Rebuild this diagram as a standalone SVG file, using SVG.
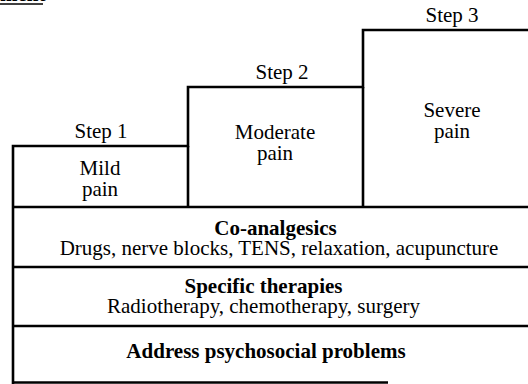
<svg xmlns="http://www.w3.org/2000/svg" width="528" height="384" viewBox="0 0 528 384">
<style>
.ln{fill:none;stroke:#000;stroke-width:2.6}
text{font-family:"Liberation Serif","Times New Roman",serif;font-size:21px;fill:#000;text-anchor:middle}
.b{font-weight:bold}
</style>
<rect width="528" height="384" fill="#fff"/>
<g id="heading">
<text x="0" y="1" style="text-anchor:start" class="b">ment</text>
<line x1="0" y1="4" x2="43" y2="4" stroke="#000" stroke-width="1.5"/>
</g>
<g id="frame">
<path class="ln" d="M13,384 V146 H188 V87 H363 V30 H528"/>
<line class="ln" x1="188" y1="146" x2="188" y2="207"/>
<line class="ln" x1="363" y1="87" x2="363" y2="207"/>
<line class="ln" x1="12" y1="207" x2="528" y2="207"/>
<line class="ln" x1="12" y1="267" x2="528" y2="267"/>
<line class="ln" x1="12" y1="326" x2="528" y2="326"/>
<line class="ln" x1="12" y1="382.5" x2="388" y2="382.5"/>
</g>
<g id="step1">
<text x="101" y="138">Step 1</text>
<text x="100" y="175">Mild</text>
<text x="100" y="196">pain</text>
</g>
<g id="step2">
<text x="282" y="79">Step 2</text>
<text x="275" y="139">Moderate</text>
<text x="275" y="160">pain</text>
</g>
<g id="step3">
<text x="452" y="22">Step 3</text>
<text x="452" y="117">Severe</text>
<text x="452" y="138">pain</text>
</g>
<g id="coanalgesics">
<text x="275.5" y="235" class="b">Co-analgesics</text>
<text x="279" y="255">Drugs, nerve blocks, TENS, relaxation, acupuncture</text>
</g>
<g id="specific">
<text x="263.5" y="293" class="b">Specific therapies</text>
<text x="263.5" y="313">Radiotherapy, chemotherapy, surgery</text>
</g>
<g id="psychosocial">
<text x="266" y="358" class="b">Address psychosocial problems</text>
</g>
</svg>
